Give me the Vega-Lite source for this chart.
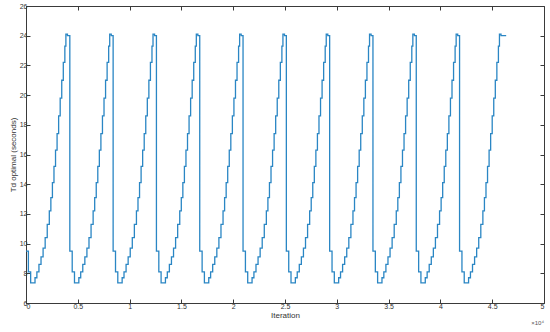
{
  "$schema": "https://vega.github.io/schema/vega-lite/v6.json",
  "width": 518,
  "height": 297,
  "autosize": {"type": "none"},
  "padding": {"left": 26, "top": 6, "right": 6, "bottom": 29},
  "background": "white",
  "config": {
    "view": {"stroke": "#3a3a3a", "strokeWidth": 1},
    "axis": {
      "domainColor": "#3a3a3a",
      "tickColor": "#3a3a3a",
      "labelColor": "#333333",
      "titleColor": "#333333",
      "labelFont": "Liberation Sans",
      "titleFont": "Liberation Sans",
      "labelFontSize": 7,
      "titleFontSize": 8,
      "titleFontWeight": "normal",
      "grid": false,
      "tickSize": -4
    }
  },
  "layer": [
    {
      "data": {"values": [
        {"x":0,"y":9.5},{"x":230,"y":8.1},{"x":450,"y":7.35},{"x":870,"y":7.7},{"x":1050,"y":8.1},{"x":1250,"y":8.6},{"x":1450,"y":9.1},{"x":1650,"y":9.7},{"x":1850,"y":10.4},{"x":2050,"y":11.3},{"x":2250,"y":12.2},{"x":2400,"y":13.1},{"x":2550,"y":14.1},{"x":2700,"y":15.2},{"x":2850,"y":16.3},{"x":3000,"y":17.4},{"x":3150,"y":18.6},{"x":3300,"y":19.8},{"x":3450,"y":21.0},{"x":3600,"y":22.2},{"x":3750,"y":23.3},{"x":3850,"y":24.1},{"x":4000,"y":24.0},
        {"x":4230,"y":9.5},{"x":4460,"y":8.1},{"x":4680,"y":7.35},{"x":5100,"y":7.7},{"x":5280,"y":8.1},{"x":5480,"y":8.6},{"x":5680,"y":9.1},{"x":5880,"y":9.7},{"x":6080,"y":10.4},{"x":6280,"y":11.3},{"x":6480,"y":12.2},{"x":6630,"y":13.1},{"x":6780,"y":14.1},{"x":6930,"y":15.2},{"x":7080,"y":16.3},{"x":7230,"y":17.4},{"x":7380,"y":18.6},{"x":7530,"y":19.8},{"x":7680,"y":21.0},{"x":7830,"y":22.2},{"x":7980,"y":23.3},{"x":8080,"y":24.1},{"x":8230,"y":24.0},
        {"x":8410,"y":9.5},{"x":8640,"y":8.1},{"x":8860,"y":7.35},{"x":9280,"y":7.7},{"x":9460,"y":8.1},{"x":9660,"y":8.6},{"x":9860,"y":9.1},{"x":10060,"y":9.7},{"x":10260,"y":10.4},{"x":10460,"y":11.3},{"x":10660,"y":12.2},{"x":10810,"y":13.1},{"x":10960,"y":14.1},{"x":11110,"y":15.2},{"x":11260,"y":16.3},{"x":11410,"y":17.4},{"x":11560,"y":18.6},{"x":11710,"y":19.8},{"x":11860,"y":21.0},{"x":12010,"y":22.2},{"x":12160,"y":23.3},{"x":12260,"y":24.1},{"x":12410,"y":24.0},
        {"x":12590,"y":9.5},{"x":12820,"y":8.1},{"x":13040,"y":7.35},{"x":13460,"y":7.7},{"x":13640,"y":8.1},{"x":13840,"y":8.6},{"x":14040,"y":9.1},{"x":14240,"y":9.7},{"x":14440,"y":10.4},{"x":14640,"y":11.3},{"x":14840,"y":12.2},{"x":14990,"y":13.1},{"x":15140,"y":14.1},{"x":15290,"y":15.2},{"x":15440,"y":16.3},{"x":15590,"y":17.4},{"x":15740,"y":18.6},{"x":15890,"y":19.8},{"x":16040,"y":21.0},{"x":16190,"y":22.2},{"x":16340,"y":23.3},{"x":16440,"y":24.1},{"x":16590,"y":24.0},
        {"x":16770,"y":9.5},{"x":17000,"y":8.1},{"x":17220,"y":7.35},{"x":17640,"y":7.7},{"x":17820,"y":8.1},{"x":18020,"y":8.6},{"x":18220,"y":9.1},{"x":18420,"y":9.7},{"x":18620,"y":10.4},{"x":18820,"y":11.3},{"x":19020,"y":12.2},{"x":19170,"y":13.1},{"x":19320,"y":14.1},{"x":19470,"y":15.2},{"x":19620,"y":16.3},{"x":19770,"y":17.4},{"x":19920,"y":18.6},{"x":20070,"y":19.8},{"x":20220,"y":21.0},{"x":20370,"y":22.2},{"x":20520,"y":23.3},{"x":20620,"y":24.1},{"x":20770,"y":24.0},
        {"x":20950,"y":9.5},{"x":21180,"y":8.1},{"x":21400,"y":7.35},{"x":21820,"y":7.7},{"x":22000,"y":8.1},{"x":22200,"y":8.6},{"x":22400,"y":9.1},{"x":22600,"y":9.7},{"x":22800,"y":10.4},{"x":23000,"y":11.3},{"x":23200,"y":12.2},{"x":23350,"y":13.1},{"x":23500,"y":14.1},{"x":23650,"y":15.2},{"x":23800,"y":16.3},{"x":23950,"y":17.4},{"x":24100,"y":18.6},{"x":24250,"y":19.8},{"x":24400,"y":21.0},{"x":24550,"y":22.2},{"x":24700,"y":23.3},{"x":24800,"y":24.1},{"x":24950,"y":24.0},
        {"x":25130,"y":9.5},{"x":25360,"y":8.1},{"x":25580,"y":7.35},{"x":26000,"y":7.7},{"x":26180,"y":8.1},{"x":26380,"y":8.6},{"x":26580,"y":9.1},{"x":26780,"y":9.7},{"x":26980,"y":10.4},{"x":27180,"y":11.3},{"x":27380,"y":12.2},{"x":27530,"y":13.1},{"x":27680,"y":14.1},{"x":27830,"y":15.2},{"x":27980,"y":16.3},{"x":28130,"y":17.4},{"x":28280,"y":18.6},{"x":28430,"y":19.8},{"x":28580,"y":21.0},{"x":28730,"y":22.2},{"x":28880,"y":23.3},{"x":28980,"y":24.1},{"x":29130,"y":24.0},
        {"x":29310,"y":9.5},{"x":29540,"y":8.1},{"x":29760,"y":7.35},{"x":30180,"y":7.7},{"x":30360,"y":8.1},{"x":30560,"y":8.6},{"x":30760,"y":9.1},{"x":30960,"y":9.7},{"x":31160,"y":10.4},{"x":31360,"y":11.3},{"x":31560,"y":12.2},{"x":31710,"y":13.1},{"x":31860,"y":14.1},{"x":32010,"y":15.2},{"x":32160,"y":16.3},{"x":32310,"y":17.4},{"x":32460,"y":18.6},{"x":32610,"y":19.8},{"x":32760,"y":21.0},{"x":32910,"y":22.2},{"x":33060,"y":23.3},{"x":33160,"y":24.1},{"x":33310,"y":24.0},
        {"x":33490,"y":9.5},{"x":33720,"y":8.1},{"x":33940,"y":7.35},{"x":34360,"y":7.7},{"x":34540,"y":8.1},{"x":34740,"y":8.6},{"x":34940,"y":9.1},{"x":35140,"y":9.7},{"x":35340,"y":10.4},{"x":35540,"y":11.3},{"x":35740,"y":12.2},{"x":35890,"y":13.1},{"x":36040,"y":14.1},{"x":36190,"y":15.2},{"x":36340,"y":16.3},{"x":36490,"y":17.4},{"x":36640,"y":18.6},{"x":36790,"y":19.8},{"x":36940,"y":21.0},{"x":37090,"y":22.2},{"x":37240,"y":23.3},{"x":37340,"y":24.1},{"x":37490,"y":24.0},
        {"x":37670,"y":9.5},{"x":37900,"y":8.1},{"x":38120,"y":7.35},{"x":38540,"y":7.7},{"x":38720,"y":8.1},{"x":38920,"y":8.6},{"x":39120,"y":9.1},{"x":39320,"y":9.7},{"x":39520,"y":10.4},{"x":39720,"y":11.3},{"x":39920,"y":12.2},{"x":40070,"y":13.1},{"x":40220,"y":14.1},{"x":40370,"y":15.2},{"x":40520,"y":16.3},{"x":40670,"y":17.4},{"x":40820,"y":18.6},{"x":40970,"y":19.8},{"x":41120,"y":21.0},{"x":41270,"y":22.2},{"x":41420,"y":23.3},{"x":41520,"y":24.1},{"x":41670,"y":24.0},
        {"x":41850,"y":9.5},{"x":42080,"y":8.1},{"x":42300,"y":7.35},{"x":42720,"y":7.7},{"x":42900,"y":8.1},{"x":43100,"y":8.6},{"x":43300,"y":9.1},{"x":43500,"y":9.7},{"x":43700,"y":10.4},{"x":43900,"y":11.3},{"x":44100,"y":12.2},{"x":44250,"y":13.1},{"x":44400,"y":14.1},{"x":44550,"y":15.2},{"x":44700,"y":16.3},{"x":44850,"y":17.4},{"x":45000,"y":18.6},{"x":45150,"y":19.8},{"x":45300,"y":21.0},{"x":45450,"y":22.2},{"x":45600,"y":23.3},{"x":45700,"y":24.1},{"x":45850,"y":24.0},
        {"x":46350,"y":24.0}
      ]},
      "mark": {"type": "line", "interpolate": "step-after", "color": "#2a86c4", "strokeWidth": 1.3},
      "encoding": {
        "x": {"field": "x", "type": "quantitative", "scale": {"domain": [0, 50000], "nice": false},
          "axis": {"orient": "bottom", "title": "Iteration", "values": [0,5000,10000,15000,20000,25000,30000,35000,40000,45000,50000], "labelExpr": "datum.value/10000", "titlePadding": 2, "labelPadding": 3}},
        "y": {"field": "y", "type": "quantitative", "scale": {"domain": [6, 26], "nice": false, "zero": false},
          "axis": {"orient": "left", "title": "Td optimal (seconds)", "values": [6,8,10,12,14,16,18,20,22,24,26], "titlePadding": 2, "labelPadding": 3}}
      }
    },
    {
      "data": {"values": [{"t": "×10⁴"}]},
      "mark": {"type": "text", "align": "right", "baseline": "top", "dy": 17, "fontSize": 6, "font": "Liberation Sans", "color": "#555555"},
      "encoding": {
        "x": {"datum": 50000, "type": "quantitative", "axis": {"orient": "top", "labels": false, "title": null, "domain": false, "values": [0,5000,10000,15000,20000,25000,30000,35000,40000,45000,50000]}},
        "y": {"datum": 6, "type": "quantitative", "axis": {"orient": "right", "labels": false, "title": null, "domain": false, "values": [6,8,10,12,14,16,18,20,22,24,26]}},
        "text": {"field": "t"}
      }
    }
  ]
}
